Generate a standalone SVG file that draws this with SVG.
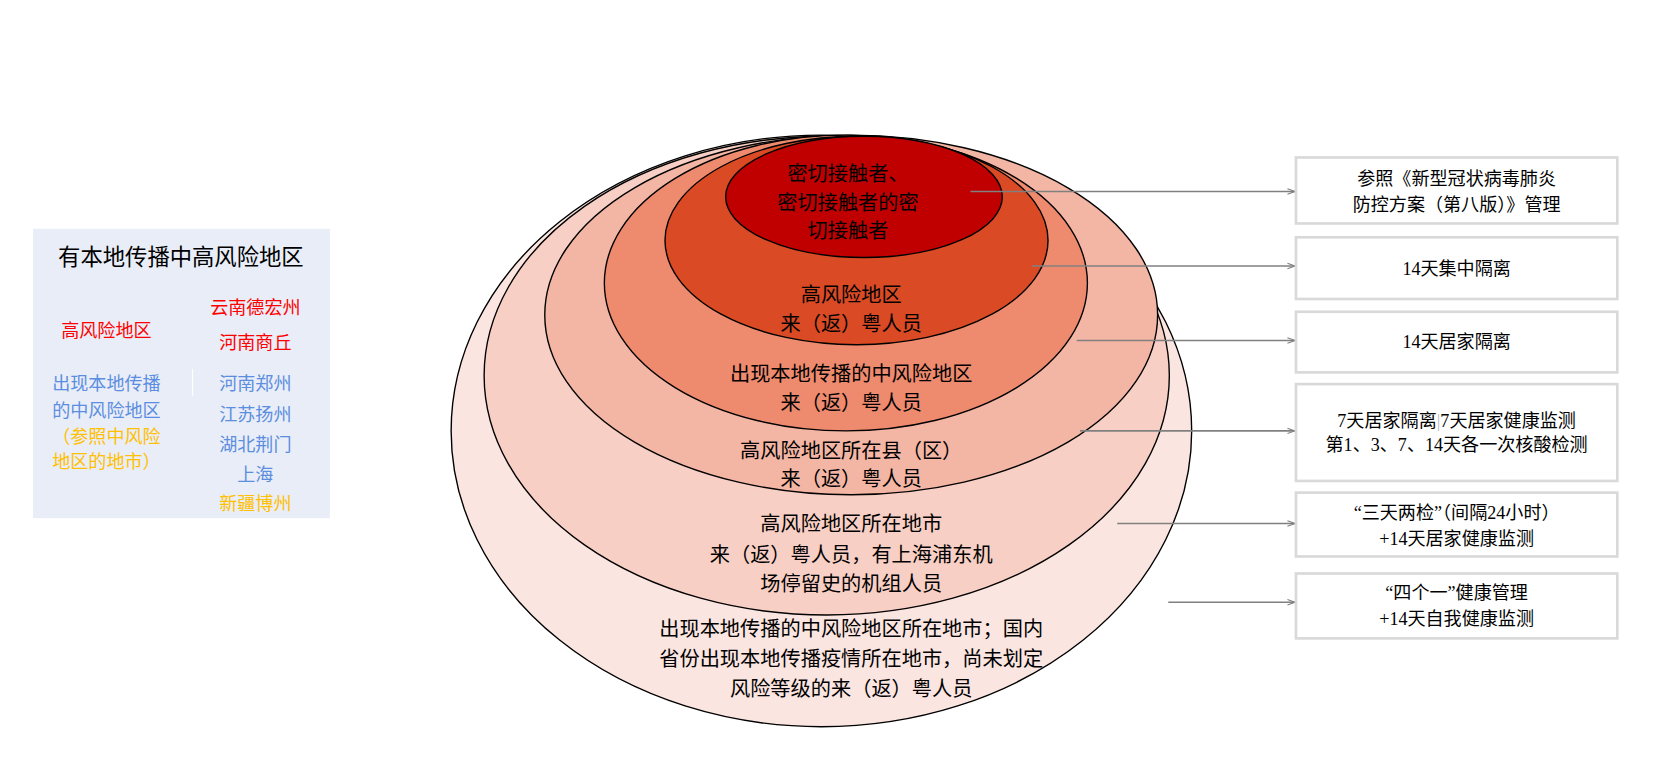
<svg xmlns="http://www.w3.org/2000/svg" width="1663" height="773" viewBox="0 0 1663 773">
<style>
.e{stroke:#000;stroke-width:1.3}
.t{font-family:"Liberation Sans","Noto Sans CJK SC",sans-serif;font-size:19px;text-anchor:middle;fill:#000}
.s{font-family:"Liberation Serif","Noto Sans CJK SC",serif;font-size:17px;text-anchor:middle;fill:#000}
.b{fill:#fff;stroke:#d9d9d9;stroke-width:2.5}
.c{stroke:#808080;stroke-width:1.5;fill:none;marker-end:url(#a)}
.l{font-family:"Liberation Sans","Noto Sans CJK SC",sans-serif;font-size:17px;text-anchor:middle}
</style>
<defs><marker id="a" markerWidth="8" markerHeight="8" refX="7" refY="4" orient="auto" markerUnits="userSpaceOnUse"><path d="M0,1.5 L7,4 L0,6.5" fill="none" stroke="#808080"/></marker></defs>
<rect width="1663" height="773" fill="#fff"/>
<g transform="scale(1.064)">
<g id="legend">
<rect x="31" y="215" width="279" height="272" fill="#e9edf7"/>
<text x="170" y="249" class="l" style="font-size:21px" fill="#000">有本地传播中高风险地区</text>
<text x="100" y="317" class="l" fill="#ff0000">高风险地区</text>
<text x="240" y="295" class="l" fill="#ff0000">云南德宏州</text>
<text x="240" y="328" class="l" fill="#ff0000">河南商丘</text>
<text x="100" y="367" class="l" fill="#5b8ee0">出现本地传播</text>
<text x="100" y="392" class="l" fill="#5b8ee0">的中风险地区</text>
<text x="100" y="416" class="l" fill="#ffc000">（参照中风险</text>
<text x="100" y="440" class="l" fill="#ffc000">地区的地市）</text>
<line x1="181" y1="347" x2="181" y2="372" stroke="#fff"/>
<text x="240" y="367" class="l" fill="#5b8ee0">河南郑州</text>
<text x="240" y="396" class="l" fill="#5b8ee0">江苏扬州</text>
<text x="240" y="424" class="l" fill="#5b8ee0">湖北荆门</text>
<text x="240" y="452" class="l" fill="#5b8ee0">上海</text>
<text x="240" y="479" class="l" fill="#ffc000">新疆博州</text>
</g>
<g id="rings">
<ellipse id="r6" cx="772" cy="405" rx="348" ry="278" fill="#fbe5e0" class="e"/>
<ellipse id="r5" cx="777" cy="353" rx="322" ry="225" fill="#f8cfc4" class="e"/>
<ellipse id="r4" cx="800" cy="296" rx="288" ry="169" fill="#f4b6a4" class="e"/>
<ellipse id="r3" cx="795" cy="266" rx="227" ry="139" fill="#ee8a6e" class="e"/>
<ellipse id="r2" cx="805" cy="226" rx="180" ry="98" fill="#d94a25" class="e"/>
<ellipse id="r1" cx="812" cy="185" rx="130" ry="57" fill="#c00000" class="e"/>
<text x="797" y="170" class="t">密切接触者、</text>
<text x="797" y="197" class="t">密切接触者的密</text>
<text x="797" y="224" class="t">切接触者</text>
<text x="800" y="284" class="t">高风险地区</text>
<text x="800" y="311" class="t">来（返）粤人员</text>
<text x="800" y="358" class="t">出现本地传播的中风险地区</text>
<text x="800" y="385" class="t">来（返）粤人员</text>
<text x="800" y="430" class="t">高风险地区所在县（区）</text>
<text x="800" y="457" class="t">来（返）粤人员</text>
<text x="800" y="499" class="t">高风险地区所在地市</text>
<text x="800" y="528" class="t">来（返）粤人员，有上海浦东机</text>
<text x="800" y="555" class="t">场停留史的机组人员</text>
<text x="800" y="598" class="t">出现本地传播的中风险地区所在地市；国内</text>
<text x="800" y="626" class="t">省份出现本地传播疫情所在地市，尚未划定</text>
<text x="800" y="654" class="t">风险等级的来（返）粤人员</text>
</g>
<g id="connectors">
<path class="c" d="M912,180 H1217"/>
<path class="c" d="M970,250 H1217"/>
<path class="c" d="M1012,320 H1217"/>
<path class="c" d="M1015,405 H1217"/>
<path class="c" d="M1050,492 H1217"/>
<path class="c" d="M1098,566 H1217"/>
</g>
<g id="box1"><rect x="1218" y="148" width="302" height="62" class="b"/><text x="1369" y="174" class="s">参照《新型冠状病毒肺炎</text><text x="1369" y="198" class="s">防控方案（第八版）》管理</text></g>
<g id="box2"><rect x="1218" y="223" width="302" height="58" class="b"/><text x="1369" y="258" class="s">14天集中隔离</text></g>
<g id="box3"><rect x="1218" y="293" width="302" height="57" class="b"/><text x="1369" y="327" class="s">14天居家隔离</text></g>
<g id="box4"><rect x="1218" y="361" width="302" height="91" class="b"/><text x="1369" y="401" class="s">7天居家隔离<tspan fill="#bbb">|</tspan>7天居家健康监测</text><text x="1369" y="424" class="s">第1、3、7、14天各一次核酸检测</text></g>
<g id="box5"><rect x="1218" y="463" width="302" height="60" class="b"/><text x="1369" y="488" class="s">“三天两检”（间隔24小时）</text><text x="1369" y="512" class="s">+14天居家健康监测</text></g>
<g id="box6"><rect x="1218" y="539" width="302" height="61" class="b"/><text x="1369" y="563" class="s">“四个一”健康管理</text><text x="1369" y="587" class="s">+14天自我健康监测</text></g>
</g>
</svg>
